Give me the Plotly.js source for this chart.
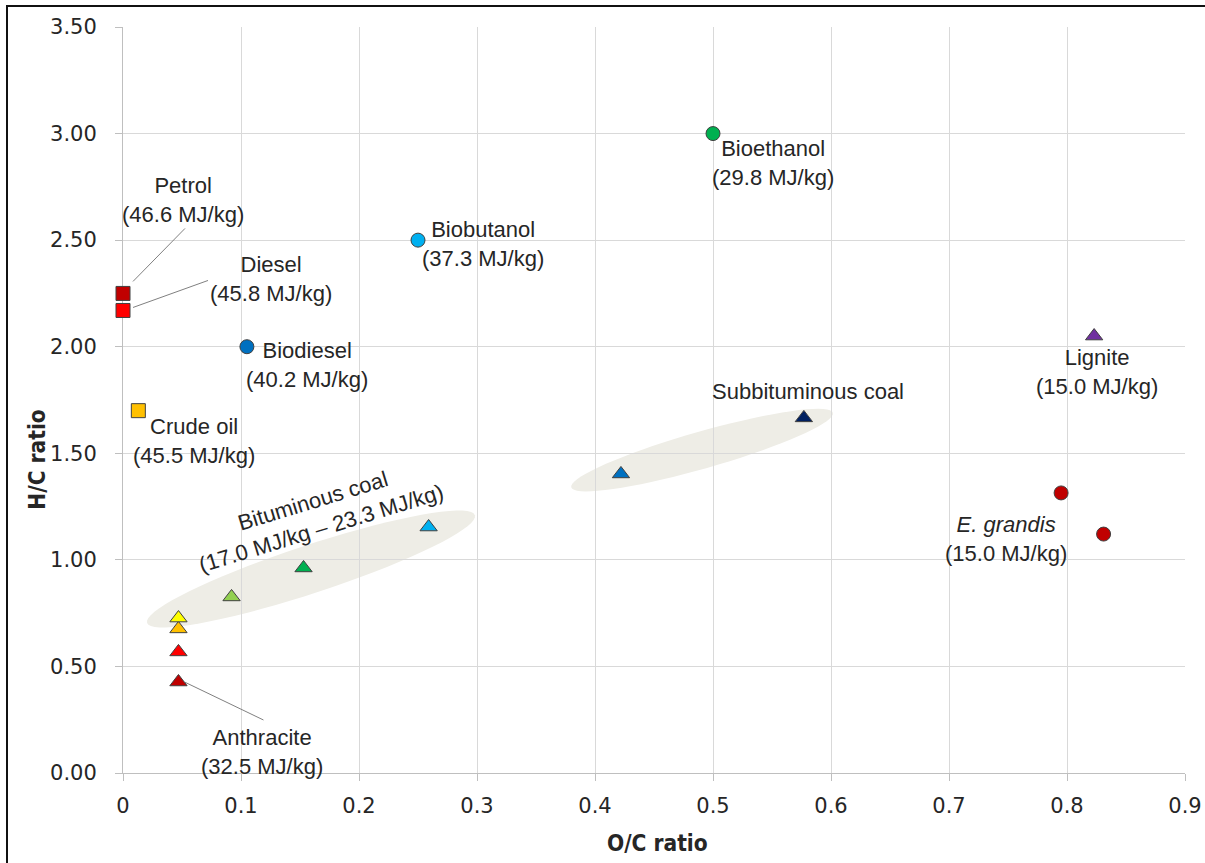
<!DOCTYPE html>
<html>
<head>
<meta charset="utf-8">
<script src="https://cdn.plot.ly/plotly-3.0.1.min.js"></script>
<style>
  html, body { margin:0; padding:0; background:#fff; }
  #wrap { position:relative; width:1205px; height:863px; }
  #chart { position:absolute; left:0; top:0; width:1205px; height:863px; }
  #frame { position:absolute; left:6px; top:5px; width:1199px; height:858px;
           border-top:2px solid #111; border-left:2px solid #111; pointer-events:none; box-sizing:border-box; }
</style>
</head>
<body>
<div id="wrap"><div id="chart"></div><div id="frame"></div></div>
<script>
// ---- Data ----
// Conventional liquid fuels (squares)
const liquidNames = ['Petrol', 'Diesel', 'Crude oil'];
const liquidEnergy = ['46.6 MJ/kg', '45.8 MJ/kg', '45.5 MJ/kg'];
const liquidOC = [0.000, 0.000, 0.013];
const liquidHC = [2.25, 2.17, 1.70];

// Biofuels (circles)
const bioNames = ['Biodiesel', 'Biobutanol', 'Bioethanol'];
const bioEnergy = ['40.2 MJ/kg', '37.3 MJ/kg', '29.8 MJ/kg'];
const bioOC = [0.105, 0.250, 0.500];
const bioHC = [2.00, 2.50, 3.00];

// E. grandis (circles)
const egOC = [0.795, 0.831];
const egHC = [1.314, 1.121];
const egEnergy = '15.0 MJ/kg';

// Lignite (triangle)
const ligOC = [0.823];
const ligHC = [2.05];
const ligEnergy = '15.0 MJ/kg';

// Subbituminous coal (triangles)
const subOC = [0.422, 0.577];
const subHC = [1.403, 1.666];

// Bituminous coal (triangles)
const bitOC = [0.047, 0.047, 0.092, 0.153, 0.259];
const bitHC = [0.676, 0.727, 0.826, 0.962, 1.154];
const bitEnergy = '17.0 MJ/kg – 23.3 MJ/kg';

// Anthracite (triangles)
const antOC = [0.047, 0.047];
const antHC = [0.427, 0.568];
const antEnergy = '32.5 MJ/kg';

// Axis ticks
const xTicks = [0, 0.1, 0.2, 0.3, 0.4, 0.5, 0.6, 0.7, 0.8, 0.9];
const yTicks = [0, 0.5, 1.0, 1.5, 2.0, 2.5, 3.0, 3.5];

// ---- Styles ----
const outline = {color:'#404040', width:1};
const liquidColors = ['#c00000', '#ff0000', '#ffc000'];
const bioColors = ['#0070c0', '#00b0f0', '#00b050'];
const subColors = ['#0070c0', '#002060'];
const bitColors = ['#ffc000', '#ffff00', '#92d050', '#00b050', '#00b0f0'];
const antColors = ['#c00000', '#ff0000'];

function tr(x, y, colors, symbol, size) {
  return {x:x, y:y, type:'scatter', mode:'markers', hoverinfo:'x+y', cliponaxis:false,
          marker:{symbol:symbol, size:size, color:colors, line:outline}};
}
const traces = [
  tr(liquidOC, liquidHC, liquidColors, 'square', 14),
  tr(bioOC, bioHC, bioColors, 'circle', 14),
  tr(egOC, egHC, '#c00000', 'circle', 14),
  tr(ligOC, ligHC, '#7030a0', 'triangle-up', 15),
  tr(subOC, subHC, subColors, 'triangle-up', 15),
  tr(bitOC, bitHC, bitColors, 'triangle-up', 15),
  tr(antOC, antHC, antColors, 'triangle-up', 15)
];

// ---- Decorations ----
const labelFont = {family:'Liberation Sans, Arial, sans-serif', size:22, color:'#262626'};
function lab(x, y, text, dx, dy, extra) {
  return Object.assign({x:x, y:y, xref:'x', yref:'y', text:text, showarrow:false,
    xshift:dx, yshift:dy, xanchor:'center', yanchor:'middle', align:'center', font:labelFont}, extra||{});
}
const titleFont = {family:'Liberation Sans Narrow, DejaVu Sans Condensed, sans-serif', size:22.5, color:'#262626'};
const annotations = [
  lab(liquidOC[0], liquidHC[0], liquidNames[0] + '<br>(' + liquidEnergy[0] + ')', 60, 93),
  lab(liquidOC[1], liquidHC[1], liquidNames[1] + '<br>(' + liquidEnergy[1] + ')', 148, 31),
  lab(liquidOC[2], liquidHC[2], liquidNames[2] + '<br>(' + liquidEnergy[2] + ')', 56, -30),
  lab(bioOC[0], bioHC[0], bioNames[0] + '<br>(' + bioEnergy[0] + ')', 60, -18),
  lab(bioOC[1], bioHC[1], bioNames[1] + '<br>(' + bioEnergy[1] + ')', 65, -4),
  lab(bioOC[2], bioHC[2], bioNames[2] + '<br>(' + bioEnergy[2] + ')', 60, -29),
  lab(ligOC[0], ligHC[0], 'Lignite<br>(' + ligEnergy + ')', 3, -36),
  lab(egOC[0], egHC[0], '<i>E. grandis</i><br>(' + egEnergy + ')', -55, -46),
  lab(subOC[1], subHC[1], 'Subbituminous coal', 4, 26),
  lab(bitOC[3], bitHC[3], 'Bituminous coal<br>(' + bitEnergy + ')', 13, 53, {textangle:-17}),
  lab(antOC[0], antHC[0], 'Anthracite<br>(' + antEnergy + ')', 84, -70),
  {xref:'paper', yref:'paper', x:0.503, y:-0.094, text:'<b>O/C ratio</b>', showarrow:false,
   xanchor:'center', yanchor:'middle', font:titleFont},
  {xref:'paper', yref:'paper', x:-0.081, y:0.42, text:'<b>H/C ratio</b>', showarrow:false, textangle:-90,
   xanchor:'center', yanchor:'middle', font:titleFont}
];

function ellipsePath(major, minor, angleDeg) {
  const a = major / 2, b = minor / 2, th = angleDeg * Math.PI / 180;
  let d = '';
  for (let i = 0; i <= 72; i++) {
    const t = i / 72 * 2 * Math.PI;
    const u = a * Math.cos(t), v = b * Math.sin(t);
    const px = u * Math.cos(th) - v * Math.sin(th);
    const py = u * Math.sin(th) + v * Math.cos(th);
    d += (i === 0 ? 'M' : 'L') + px.toFixed(2) + ',' + py.toFixed(2);
  }
  return d + 'Z';
}
function ellipse(cx, cy, major, minor, ang) {
  return {type:'path', layer:'below', xref:'x', yref:'y', xsizemode:'pixel', ysizemode:'pixel',
          xanchor:cx, yanchor:cy, path:ellipsePath(major, minor, ang),
          fillcolor:'#eeede6', line:{width:0}};
}
function leader(x, y, x0, y0, x1, y1) {
  return {type:'line', layer:'above', xref:'x', yref:'y', xsizemode:'pixel', ysizemode:'pixel',
          xanchor:x, yanchor:y, x0:x0, y0:y0, x1:x1, y1:y1, line:{color:'#808080', width:1}};
}
const shapes = [
  ellipse(0.1593, 0.957, 345, 48, 18.2),
  ellipse(0.4907, 1.515, 272, 37, 15.9),
  leader(liquidOC[0], liquidHC[0], 10, 12, 62, 65),
  leader(liquidOC[1], liquidHC[1], 10, 3, 85, 30),
  leader(antOC[0], antHC[0], 6, 0, 85, -38)
];

const tickFont = {family:'DejaVu Sans, sans-serif', size:21, color:'#262626'};
const axisCommon = {showgrid:true, gridcolor:'#d9d9d9', gridwidth:1, zeroline:false,
  showline:true, linecolor:'#bfbfbf', linewidth:1, ticks:'outside', ticklen:7,
  tickcolor:'#bfbfbf', tickfont:tickFont, fixedrange:true, tickmode:'array',
  layer:'below traces'};

const layout = {
  width:1205, height:863,
  margin:{l:123, r:20, t:27, b:90},
  paper_bgcolor:'#ffffff', plot_bgcolor:'#ffffff',
  showlegend:false,
  xaxis:Object.assign({}, axisCommon, {range:[0, 0.9], tickvals:xTicks,
    ticktext:xTicks.map(v => String(v)), ticklabelstandoff:7}),
  yaxis:Object.assign({}, axisCommon, {range:[0, 3.5], tickvals:yTicks,
    ticktext:yTicks.map(v => v.toFixed(2)), ticklabelstandoff:14}),
  annotations:annotations,
  shapes:shapes
};

Plotly.newPlot('chart', traces, layout, {displayModeBar:false, staticPlot:true});
</script>
</body>
</html>
